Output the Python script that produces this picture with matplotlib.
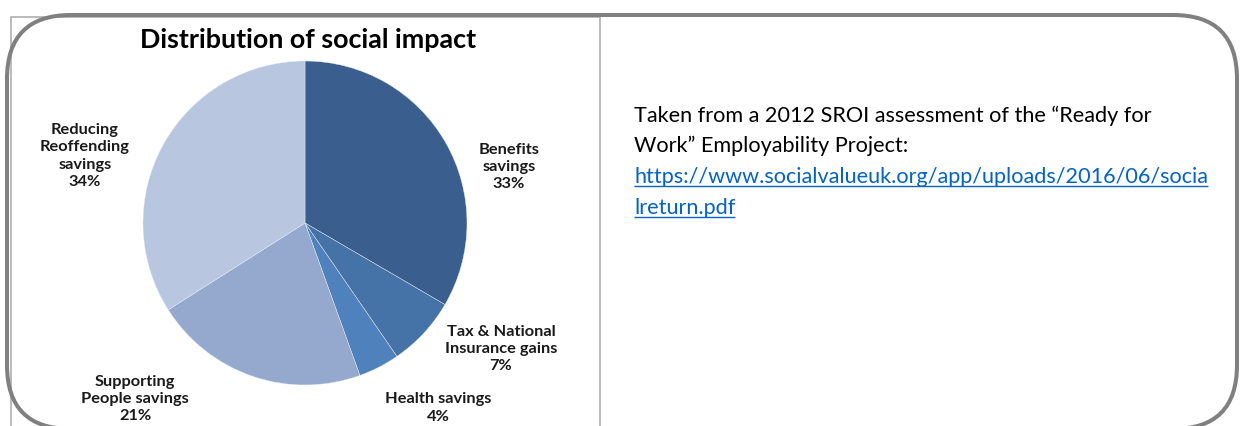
import matplotlib
matplotlib.use("Agg")
import matplotlib.pyplot as plt
from matplotlib.patches import FancyBboxPatch, Rectangle

# ---- data ----
categories = ["Benefits\nsavings", "Tax & National\nInsurance gains", "Health savings",
              "Supporting\nPeople savings", "Reducing\nReoffending\nsavings"]
values = [33.4, 7.0, 4.1, 21.5, 34.0]
pct_labels = ["33%", "7%", "4%", "21%", "34%"]
colors = ["#3A5E8E", "#4572A7", "#4F81BD", "#95A9CF", "#B9C6E0"]
title = "Distribution of social impact"
body_lines = ["Taken from a 2012 SROI assessment of the \u201cReady for",
              "Work\u201d Employability Project:"]
link_lines = ["https://www.socialvalueuk.org/app/uploads/2016/06/socia",
              "lreturn.pdf"]

W, H = 1240, 426
fig = plt.figure(figsize=(W / 100, H / 100), dpi=100)
fig.patch.set_facecolor("white")

bg = fig.add_axes([0, 0, 1, 1])
bg.set_xlim(0, W)
bg.set_ylim(0, H)
bg.axis("off")


def Y(y):
    """convert a top-down pixel row into the axes' bottom-up coordinate"""
    return H - y


# chart frame
bg.add_patch(Rectangle((10.5, Y(437)), 589, 420, facecolor="white",
                       edgecolor="#A8A8A8", lw=1.1, zorder=1))
# rounded outer border
bg.add_patch(FancyBboxPatch((7, Y(429)), 1230, 414,
                            boxstyle="round,pad=0,rounding_size=64",
                            facecolor="none", edgecolor="#808080", lw=2.9, zorder=3))

bg.text(308, Y(40), title, ha="center", va="center", fontsize=19.4,
        fontweight="bold", family="Lato", color="black", zorder=4)

# right text
fs_body = 15.6
y_lines = [122, 152.5]
for t, y in zip(body_lines, y_lines):
    bg.text(634, Y(y), t, ha="left", va="baseline", fontsize=fs_body, family="Lato",
            color="black", zorder=4)
link_color = "#0563C1"
link_y = [183.3, 214]
link_texts = []
for t, y in zip(link_lines, link_y):
    link_texts.append(bg.text(634, Y(y), t, ha="left", va="baseline", fontsize=fs_body,
                              family="Lato", color=link_color, zorder=4))

# pie
cx, cy, r = 305, 223, 162
pie_ax = fig.add_axes([(cx - r) / W, 1 - (cy + r) / H, 2 * r / W, 2 * r / H])
wedges, _ = pie_ax.pie(values, colors=colors, startangle=90, counterclock=False,
                       wedgeprops=dict(edgecolor="#E8EEF6", linewidth=0.3))
pie_ax.set_xlim(-1, 1)
pie_ax.set_ylim(-1, 1)
pie_ax.set_aspect("equal")
pie_ax.axis("off")

label_pos_px = [(509, 167), (501, 349), (438, 408), (135, 399), (85, 156)]
for cat, pct, (px, py) in zip(categories, pct_labels, label_pos_px):
    pie_ax.text((px - cx) / r, (cy - py) / r, cat + "\n" + pct, ha="center",
                va="center", fontsize=11.8, fontweight="bold", family="Lato",
                linespacing=1.31, color="#1A1A1A")

# underline links
fig.canvas.draw()
renderer = fig.canvas.get_renderer()
inv = bg.transData.inverted()
for t, y in zip(link_texts, link_y):
    bb = t.get_window_extent(renderer)
    (x0, _), (x1, _) = inv.transform([(bb.x0, bb.y0), (bb.x1, bb.y1)])
    bg.plot([x0, x1], [Y(y + 2.7), Y(y + 2.7)], color=link_color, lw=1.0, zorder=4,
            solid_capstyle="butt")

fig.savefig("out.png", dpi=100)
